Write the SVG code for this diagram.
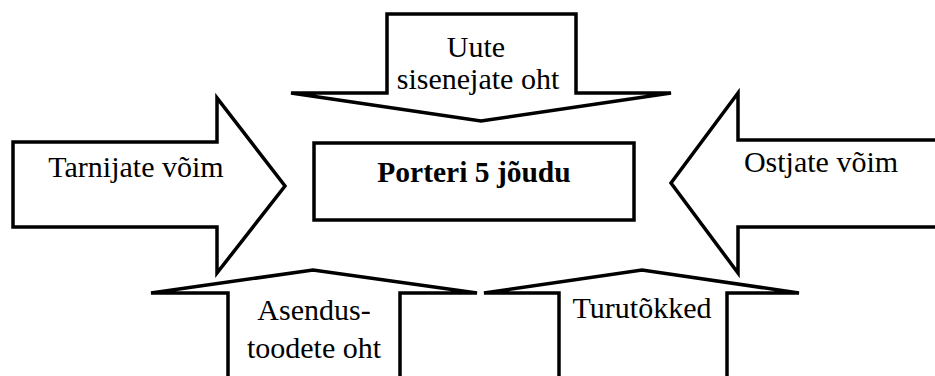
<svg xmlns="http://www.w3.org/2000/svg" width="935" height="376" viewBox="0 0 935 376">
  <style>
    .arrow { fill: #ffffff; stroke: #000000; stroke-width: 3.5; stroke-linejoin: miter; stroke-miterlimit: 4; }
    .box { fill: #ffffff; stroke: #000000; stroke-width: 3.5; }
    .lbl { font-family: "Liberation Serif", "Times New Roman", serif; font-size: 30px; fill: #000000; text-anchor: middle; }
    .title { font-weight: bold; font-size: 29.5px; }
  </style>
  <rect width="935" height="376" fill="#ffffff"/>

  <!-- force arrows pointing at the centre -->
  <g id="connectors"/>

  <g id="new-entrants">
    <polygon class="arrow" points="387,14 576,14 576,93 671,93 481,121 291,93 387,93"/>
    <text class="lbl" x="476" y="57">Uute</text>
    <text class="lbl" x="478" y="89">sisenejate oht</text>
  </g>

  <g id="suppliers">
    <polygon class="arrow" points="13,142 217,142 217,98 285,186 217,273 217,227 13,227"/>
    <text class="lbl" x="136" y="177">Tarnijate võim</text>
  </g>

  <g id="buyers">
    <polygon class="arrow" points="940,140 738,140 738,93 671,183 738,273 738,227 940,227"/>
    <text class="lbl" x="821" y="172">Ostjate võim</text>
  </g>

  <g id="porter">
    <rect class="box" x="314" y="143" width="320" height="77"/>
    <text class="lbl title" x="474" y="182">Porteri 5 jõudu</text>
  </g>

  <g id="substitutes">
    <polygon class="arrow" points="228,380 228,293 151,293 313,270 477,293 400,293 400,380"/>
    <text class="lbl" x="314" y="320">Asendus-</text>
    <text class="lbl" x="314" y="358">toodete oht</text>
  </g>

  <g id="barriers">
    <polygon class="arrow" points="559,380 559,293 484,293 642,270 799,293 727,293 727,380"/>
    <text class="lbl" x="642" y="318">Turutõkked</text>
  </g>
</svg>
